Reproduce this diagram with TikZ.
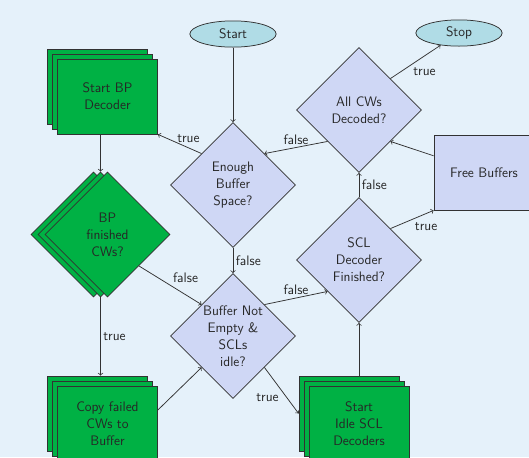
\documentclass[tikz,border=0pt]{standalone}
\usetikzlibrary{shapes.geometric}
\usetikzlibrary{shadows}
\usetikzlibrary{positioning}

\definecolor{bgblue}{RGB}{229,241,250}
\definecolor{declav}{RGB}{207,215,245}
\definecolor{bpgreen}{RGB}{0,177,68}
\definecolor{termblue}{RGB}{176,220,230}
\definecolor{linegray}{RGB}{50,50,50}

\tikzset{
  decision/.style={diamond, aspect=1, draw=linegray, line width=0.6pt, fill=declav,
    minimum width=100pt, minimum height=100pt, inner sep=0pt, align=center},
  decstack/.style={decision, fill=bpgreen,
    copy shadow={shadow xshift=-11.2pt, shadow yshift=0pt, draw=linegray, line width=0.6pt, fill=bpgreen},
    copy shadow={shadow xshift=-5.6pt, shadow yshift=0pt, draw=linegray, line width=0.6pt, fill=bpgreen}},
  process/.style={rectangle, draw=linegray, line width=0.6pt, fill=declav,
    minimum width=80pt, minimum height=60pt, inner sep=2pt, align=center},
  procstack/.style={process, fill=bpgreen,
    copy shadow={shadow xshift=-8pt, shadow yshift=8pt, draw=linegray, line width=0.6pt, fill=bpgreen},
    copy shadow={shadow xshift=-4pt, shadow yshift=4pt, draw=linegray, line width=0.6pt, fill=bpgreen}},
  terminal/.style={ellipse, draw=linegray, line width=0.6pt, fill=termblue,
    minimum width=69pt, minimum height=21pt, inner sep=1pt},
  flow/.style={->, draw=linegray, line width=0.6pt},
  lbl/.style={inner sep=2pt}
}

\begin{document}
\begin{tikzpicture}[x=0.8pt, y=-0.8pt, on grid, text=black!85,
    font=\sffamily\fontsize{11}{13.6}\selectfont]
        \clip (0,0) rectangle (529,457);
        \fill[bgblue] (0,0) rectangle (529,457);

        % Define nodes
        % middle column
        \node[terminal] (start) at (233,34) {Start}; %
        \node[decision, below=120.8pt of start] (enough) {Enough\\Buffer\\Space?}; %
        \node[decision, below=120.8pt of enough] (bufne) {Buffer Not\\Empty \&\\SCLs\\idle?}; %
        % BP side
        \node[procstack, above left=70.8pt and 100.4pt of enough] (startbp) {Start BP\\Decoder}; %
        \node[decstack, below=110.4pt of startbp] (bpfin) {BP\\finished\\CWs?}; %
        \node[procstack, below=151.2pt of bpfin] (copyfail) {Copy failed\\CWs to\\Buffer}; %
        % SCL side
        \node[decision, above right=60pt and 100.8pt of enough] (allcw) {All CWs\\Decoded?}; %
        \node[decision, below=120pt of allcw] (sclfin) {SCL\\Decoder\\Finished?}; %
        \node[procstack, below=130.8pt of sclfin] (startscl) {Start\\Idle SCL\\Decoders}; %
        \node[terminal, above right=61.6pt and 80pt of allcw] (stop) {Stop}; %
        \node[process, below right=50pt and 100pt of allcw] (free) {Free Buffers}; %

        \draw[flow] (start) -- (enough);
        \draw[flow] (enough.north west) -- node[lbl, above=2pt, pos=0.3] {true} (startbp.south east);
        \draw[flow] (enough) -- node[lbl, right] {false} (bufne);
        \draw[flow] ([xshift=-5.6pt]startbp.south) -- ([xshift=-5.6pt]bpfin.north);
        \draw[flow] ([xshift=-5.6pt]bpfin.south) -- node[lbl, right] {true} ([xshift=-5.6pt, yshift=8pt]copyfail.north);
        \draw[flow] (bpfin.south east) -- node[lbl, above right] {false} (bufne.north west);
        \draw[flow] ([yshift=10.8pt]copyfail.east) -- (bufne.south west);
        \draw[flow] (bufne.north east) -- node[lbl, above] {false} (sclfin.south west);
        \draw[flow] (bufne.south east) -- node[lbl, below left] {true} ([xshift=-8pt, yshift=8pt]startscl.west);
        \draw[flow] ([yshift=8pt]startscl.north) -- (sclfin.south);
        \draw[flow] (sclfin) -- node[lbl, right] {false} (allcw);
        \draw[flow] (sclfin.north east) -- node[lbl, below right] {true} (free.south west);
        \draw[flow] (free) -- (allcw.south east);
        \draw[flow] (allcw.south west) -- node[lbl, above] {false} (enough.north east);
        \draw[flow] (allcw.north east) -- node[lbl, below right, pos=0.4] {true} (stop);
    \end{tikzpicture}
\end{document}
